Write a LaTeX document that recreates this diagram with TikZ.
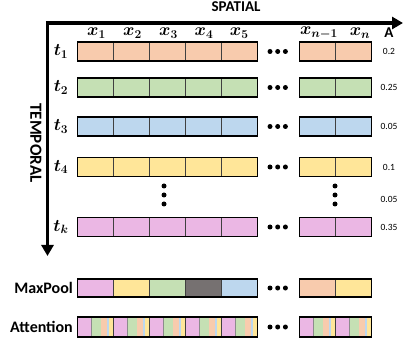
\documentclass[tikz,border=0pt]{standalone}
\usepackage{amsmath,bm}
\usepackage{fontspec}
\setsansfont{Carlito}
\usetikzlibrary{arrows.meta}
\definecolor{cOr}{HTML}{F8CBAD}
\definecolor{cGr}{HTML}{C5E0B4}
\definecolor{cBl}{HTML}{BDD7EE}
\definecolor{cYe}{HTML}{FFE699}
\definecolor{cPk}{HTML}{EBB7E4}
\definecolor{cDk}{HTML}{767171}
\newcommand\cellxs{77.3,113.3,149.3,185.3,221.3,299.3,335.3}
\newcommand\frames[2]{% y-center, half height
  \draw[outerst] (77.3,#1-#2) rectangle (257.3,#1+#2);
  \draw[outerst] (299.3,#1-#2) rectangle (371.3,#1+#2);
  \fill (270,#1) circle (2.5) (277.7,#1) circle (2.5) (285.4,#1) circle (2.5);}
\newcommand\uniformrow[2]{% y-center, colour
  \foreach \xl in \cellxs {\draw[cellst, fill=#2] (\xl,#1-9.5) rectangle ++(36,19);}
  \frames{#1}{9.5}}
\begin{document}
\begin{tikzpicture}[x=1pt,y=-1pt,
  cellst/.style={draw=black!75, line width=0.8pt},
  outerst/.style={draw=black, line width=1.5pt},
  axisst/.style={line width=3.2pt, -{Triangle[length=11pt,width=12pt]}},
  axislbl/.style={font=\sffamily\bfseries\fontsize{15}{15}\selectfont, inner sep=0pt},
  mlbl/.style={font=\fontsize{17}{17}\selectfont\boldmath, inner sep=0pt},
  vallbl/.style={font=\sffamily\fontsize{9.5}{9.5}\selectfont, inner sep=0pt},
  rowlbl/.style={font=\sffamily\bfseries\fontsize{16}{16}\selectfont, inner sep=0pt, anchor=east}]
\useasboundingbox (0,0) rectangle (404,347);

% axes
\coordinate (o) at (47.5,23);
\coordinate (xe) at (403,23);
\coordinate (ye) at (47.5,256);
\draw[axisst] ([xshift=-1.6pt]o) -- (xe);
\draw[axisst] ([yshift=-1.6pt]o) -- (ye);
\node[axislbl] (spatial) at (236,7) {SPATIAL};
\node[axislbl, font=\sffamily\bfseries\fontsize{17}{17}\selectfont, rotate=-90] (temporal) at (36,143) {TEMPORAL};

% column labels
\foreach \xc/\lab [count=\i] in {96.5/x_1,132.5/x_2,168.5/x_3,204/x_4,239.3/x_5,319/x_{n-1},360/x_n}
  \node[mlbl] (col\i) at (\xc,33) {$\lab$};
\node[axislbl] (A) at (389,33) {A};

% rows
\foreach \yc/\col/\lab/\val [count=\i] in {51.5/cOr/t_1/0.2, 87.5/cGr/t_2/0.25, 126.5/cBl/t_3/0.05, 167/cYe/t_4/0.1, 227/cPk/t_k/0.35}{
  \uniformrow{\yc}{\col}
  \node[mlbl] (t\i) at (61,\yc) {$\lab$};
  \node[vallbl] (v\i) at (389,\yc) {\val};
}
% vertical dots
\foreach \xc in {164,335}
  \fill (\xc,186) circle (2.5) (\xc,195) circle (2.5) (\xc,204) circle (2.5);
\node[vallbl] (vdots) at (389,199) {0.05};

% MaxPool
\foreach \xl/\col in {77.3/cPk,113.3/cYe,149.3/cGr,185.3/cDk,221.3/cBl,299.3/cOr,335.3/cYe}
  \draw[cellst, fill=\col] (\xl,279) rectangle ++(36,18);
\frames{288}{9}
\node[rowlbl] (maxpool) at (73,288) {MaxPool};

% Attention
\foreach \xl in \cellxs {
  \fill[cPk] (\xl,317) rectangle ++(14,20);
  \fill[cGr] (\xl+14,317) rectangle ++(10,20);
  \fill[cOr] (\xl+24,317) rectangle ++(6,20);
  \fill[cBl] (\xl+30,317) rectangle ++(2,20);
  \fill[cYe] (\xl+32,317) rectangle ++(4,20);
  \draw[black!45, line width=0.5pt] (\xl+14,317) -- ++(0,20);
  \draw[cellst] (\xl,317) rectangle ++(36,20);
}
\frames{327}{10}
\node[rowlbl] (attention) at (73,327) {Attention};
\end{tikzpicture}
\end{document}
